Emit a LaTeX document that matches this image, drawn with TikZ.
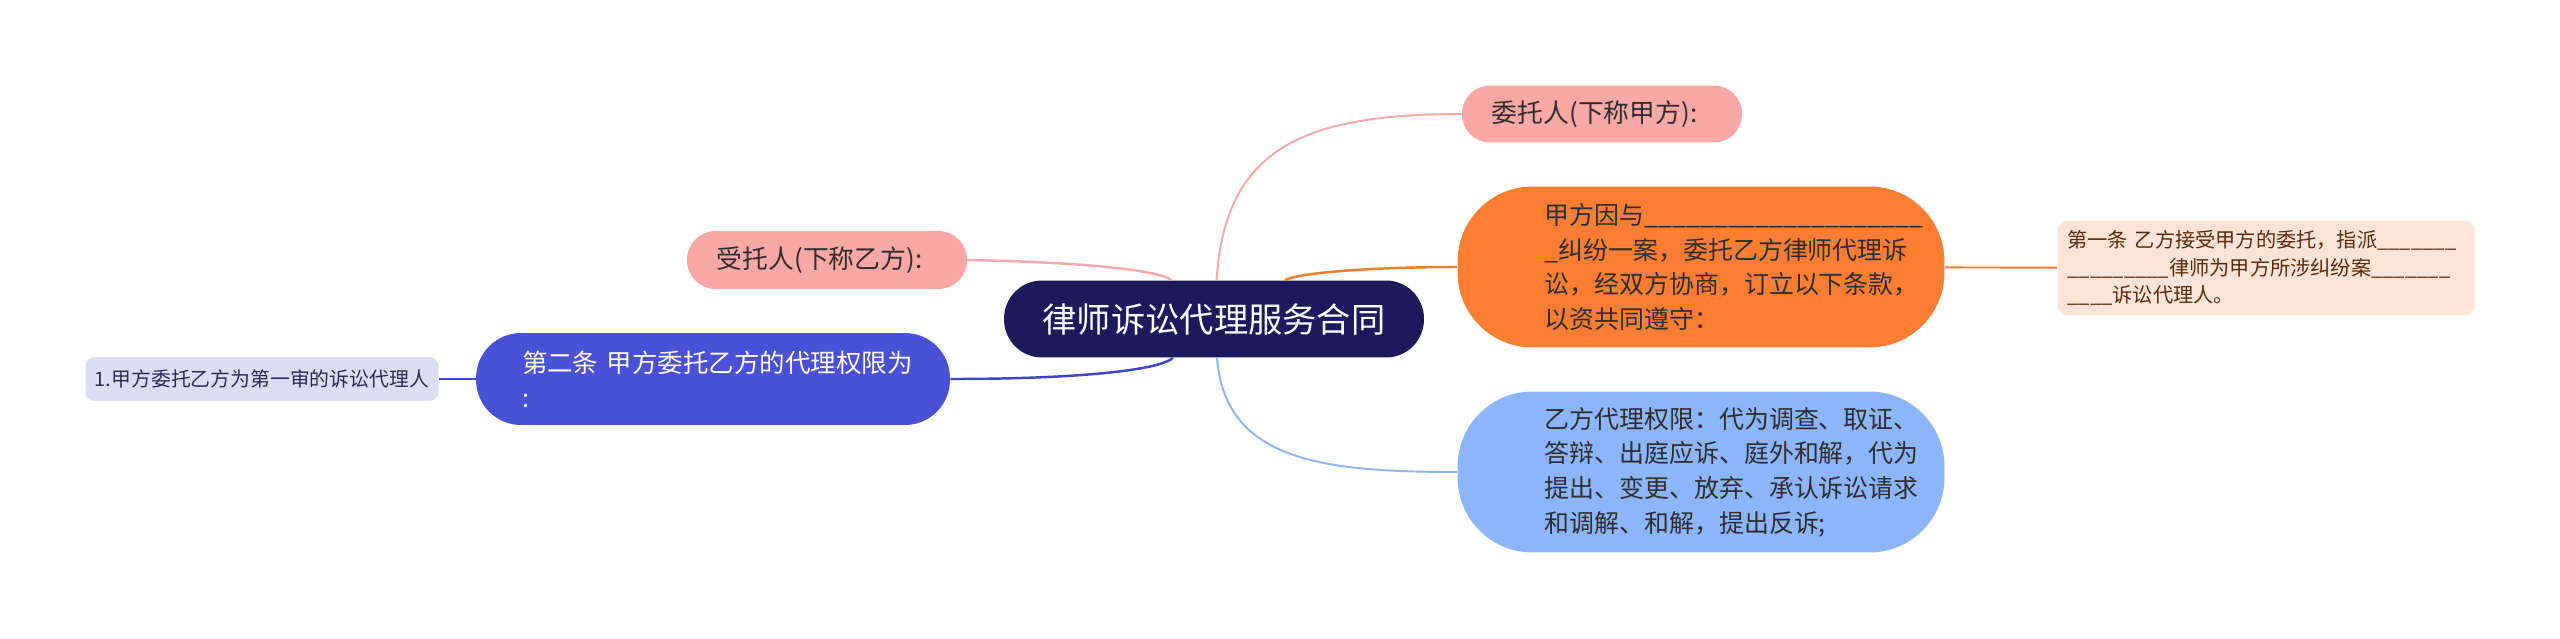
\documentclass[tikz,border=0pt]{standalone}
\usepackage{fontspec}
\setmainfont{Noto Sans CJK SC}
\usepackage{xcolor}
\usepackage{tikz}

\definecolor{rootfill}{HTML}{1C1A5C}
\definecolor{pinkfill}{HTML}{F9A8A6}
\definecolor{orangefill}{HTML}{FD7E33}
\definecolor{bluefill}{HTML}{8CB5FB}
\definecolor{indigofill}{HTML}{4A51D6}
\definecolor{lavfill}{HTML}{DDDDF6}
\definecolor{peachfill}{HTML}{FDE4D6}
\definecolor{darktext}{HTML}{2E2E2E}
\definecolor{browntext}{HTML}{5C2A0E}
\definecolor{navytext}{HTML}{2B2B55}
\definecolor{pinkline}{HTML}{F5A9A9}
\definecolor{orangeline}{HTML}{F07D30}
\definecolor{blueline}{HTML}{8CB4F7}
\definecolor{indigoline}{HTML}{3E45C6}

\newcommand{\blank}[1]{\foreach\k in {1,...,#1}{\_}}

\tikzset{
  topic/.style={inner sep=0pt, align=center},
  bigtopic/.style={inner ysep=0pt, align=left, minimum height=3.22cm,
    text width=6.26cm, inner xsep=1.74cm, rounded corners=1.5cm,
    text=darktext, font=\fontsize{14.2}{19.7}\selectfont},
  link/.style={line width=1.4pt}
}

\begin{document}
\begin{tikzpicture}[x=0.02cm, y=-0.02cm]
  \useasboundingbox (0,0) rectangle (2560,639);

  % central topic
  \node[topic, fill=rootfill, text=white, minimum width=8.4cm,
    minimum height=1.54cm, rounded corners=0.76cm,
    font=\fontsize{19.5}{23}\selectfont] (root) at (1214,319) {律师诉讼代理服务合同};

  % right side
  \node[topic, fill=pinkfill, text=darktext, minimum width=5.6cm,
    minimum height=1.14cm, rounded corners=0.56cm,
    font=\fontsize{14.7}{17}\selectfont] (weituo) at (1602,114) {\hspace*{-0.3cm}委托人(下称甲方):};
  \node[bigtopic, fill=orangefill] (yinyu) at (1701,267)
    {甲方因与\blank{20}\\\_纠纷一案，委托乙方律师代理诉\\讼，经双方协商，订立以下条款，\\以资共同遵守：};
  \node[bigtopic, fill=bluefill] (quanxian) at (1701,472)
    {乙方代理权限：代为调查、取证、\\答辩、出庭应诉、庭外和解，代为\\提出、变更、放弃、承认诉讼请求\\和调解、和解，提出反诉;};
  \node[topic, align=left, fill=peachfill, text=browntext, text width=7.94cm,
    inner xsep=0.2cm, minimum height=1.9cm, rounded corners=0.2cm,
    font=\fontsize{11.5}{15.5}\selectfont] (diyi) at (2266,268)
    {第一条~乙方接受甲方的委托，指派\blank{7}\\\blank{9}律师为甲方所涉纠纷案\blank{7}\\\blank{4}诉讼代理人。};

  % left side
  \node[topic, fill=pinkfill, text=darktext, minimum width=5.6cm,
    minimum height=1.16cm, rounded corners=0.57cm,
    font=\fontsize{14.7}{17}\selectfont] (shoutuo) at (827,260) {\hspace*{-0.3cm}受托人(下称乙方):};
  \node[topic, align=left, fill=indigofill, text=white, text width=7.64cm,
    inner xsep=0.92cm, minimum height=1.84cm, rounded corners=0.9cm,
    font=\fontsize{14.5}{20}\selectfont] (dier) at (713,379)
    {第二条~甲方委托乙方的代理权限为\\:};
  \node[topic, fill=lavfill, text=navytext, minimum width=7.06cm,
    minimum height=0.88cm, rounded corners=0.18cm,
    font=\fontsize{11.3}{13}\selectfont] (diyishen) at (262,379) {1.甲方委托乙方为第一审的诉讼代理人};

  % connectors
  \draw[link, pinkline, line width=1.1pt] (root) .. controls (1225,150) and (1300,114) .. (weituo.west);
  \draw[link, orangeline] (root) .. controls (1300,272) and (1380,267) .. (yinyu.west);
  \draw[link, blueline, line width=1.1pt] (root) .. controls (1225,460) and (1320,472) .. (quanxian.west);
  \draw[link, pinkline] (shoutuo.east) .. controls (1080,262) and (1160,270) .. (root);
  \draw[link, indigoline] (dier.east) .. controls (1080,379) and (1160,370) .. (root);
  \draw[link, indigoline] (diyishen) -- (dier);
  \draw[link, orangeline, line width=1.1pt] (yinyu) -- (diyi);
\end{tikzpicture}
\end{document}
